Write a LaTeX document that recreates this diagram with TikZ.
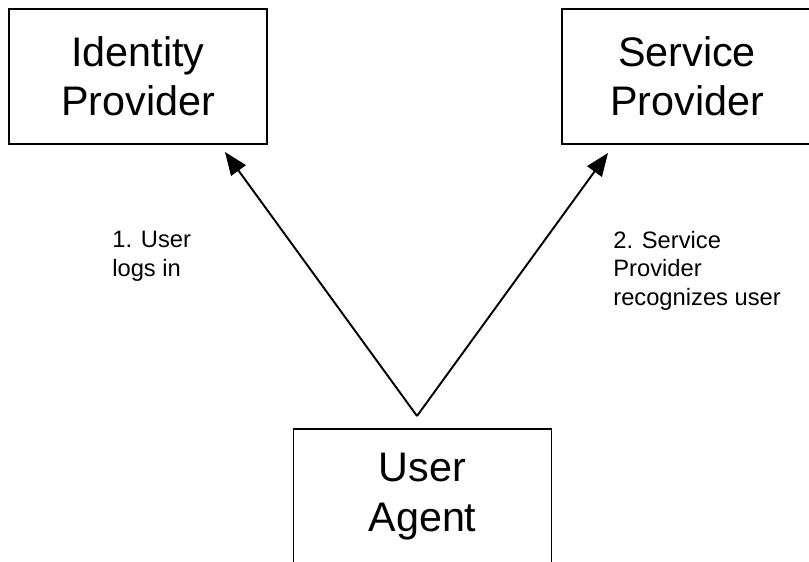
\documentclass[tikz,border=0pt]{standalone}
\usepackage{fontspec}
\setmainfont{Liberation Sans}
\usetikzlibrary{arrows.meta}

\begin{document}
\begin{tikzpicture}[>={Triangle[length=0.46cm,width=0.36cm]},
  party/.style={draw,line width=1.1pt,minimum width=5.16cm,minimum height=2.70cm,
    align=center,font=\fontsize{23.5}{28}\selectfont},
  step label/.style={anchor=north west,inner sep=0pt,align=left,
    font=\fontsize{13.5}{16.2}\selectfont}]
  \useasboundingbox (0,0) rectangle (16.18,11.24);

  \node[party] (idp) at (2.76,9.71) {Identity\\Provider};
  \node[party,minimum width=5.0cm] (sp) at (13.74,9.71) {Service\\Provider};
  \node[party] (ua) at (8.45,1.31) {User\\Agent};

  \coordinate (start) at (8.34,2.92);
  \coordinate (login) at (4.50,8.20);
  \coordinate (recog) at (12.16,8.18);

  \draw[->,line width=1.1pt] (start) -- (login);
  \draw[->,line width=1.1pt] (start) -- (recog);

  \node[step label] (l1) at (2.24,6.62) {1. User\\logs in};
  \node[step label] (l2) at (12.26,6.62) {2. Service\\Provider\\recognizes user};
\end{tikzpicture}
\end{document}
